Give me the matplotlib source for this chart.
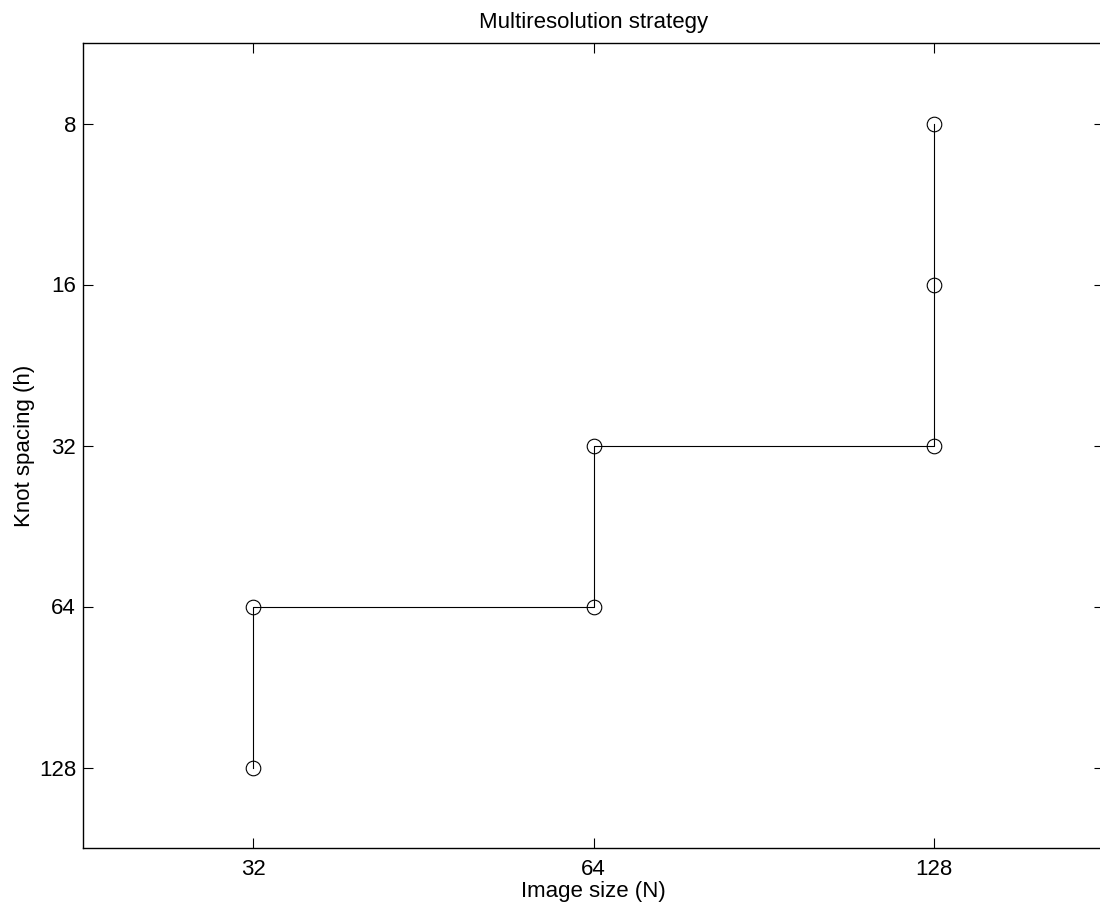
import matplotlib
matplotlib.use("Agg")
import matplotlib.pyplot as plt

image_size = [32, 32, 64, 64, 128, 128, 128]
knot_spacing = [128, 64, 64, 32, 32, 16, 8]
x_ticks = [32, 64, 128]
y_ticks = [8, 16, 32, 64, 128]

plt.rcParams['font.family'] = ['Liberation Sans', 'DejaVu Sans']
fig = plt.figure(figsize=(11, 9.09), dpi=100)
ax = fig.add_axes([83/1100, 61/909, (1104-83)/1100, (848-43)/909])
ax.plot(image_size, knot_spacing, color='black', lw=0.8, marker='o',
        markerfacecolor='none', markeredgecolor='black', markersize=10.5, markeredgewidth=0.8)
ax.set_xscale('log', base=2)
ax.set_yscale('log', base=2)
ax.set_xlim(2**4.5, 2**7.5)
ax.set_ylim(2**7.5, 2**2.5)
ax.set_xticks(x_ticks)
ax.set_xticklabels([str(v) for v in x_ticks])
ax.set_yticks(y_ticks)
ax.set_yticklabels([str(v) for v in y_ticks])
ax.minorticks_off()
ax.tick_params(direction='in', length=7, width=0.8, top=True, right=True, labelsize=16)
ax.tick_params(axis='y', pad=5)
ax.tick_params(axis='x', pad=8)
for s in ax.spines.values():
    s.set_linewidth(1.0)
ax.set_title('Multiresolution strategy', fontsize=16, pad=11)
ax.set_xlabel('Image size (N)', fontsize=16, labelpad=1)
ax.set_ylabel('Knot spacing (h)', fontsize=16, labelpad=2.5)
fig.savefig('out.png', dpi=100)
